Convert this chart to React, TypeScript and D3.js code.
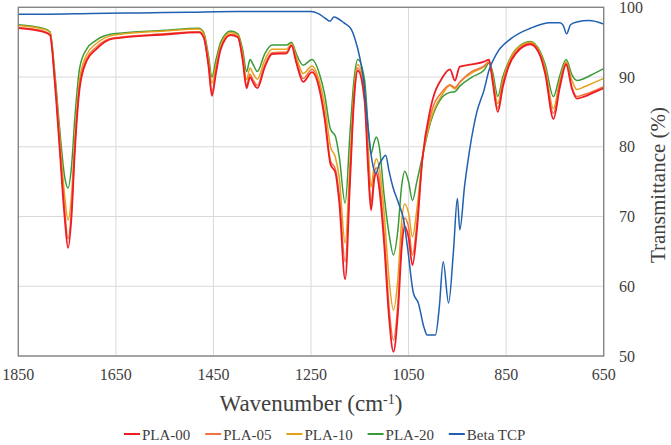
import * as d3 from "d3";

// wavenumbers (cm-1) shared by the PLA spectra, high to low
const wavePLA = [
  1850, 1800, 1785, 1775, 1765, 1755, 1748, 1741, 1734, 1724, 1710, 1690, 1656, 1550, 1480, 1470,
  1460, 1453, 1445, 1435, 1415, 1400, 1390, 1382, 1375, 1368, 1360, 1345, 1330, 1300, 1290, 1280,
  1266, 1248, 1232, 1222, 1210, 1200, 1192, 1180, 1170, 1162, 1154, 1140, 1133, 1127, 1120, 1116,
  1110, 1100, 1090, 1081, 1072, 1064, 1058, 1050, 1042, 1033, 1022, 1005, 980, 965, 955, 945, 920,
  895, 885, 878, 867, 857, 845, 830, 800, 780, 770, 753, 740, 727, 715, 705, 690, 670, 650,
];

const pla00 = [
  97.0, 96.5, 96.0, 89.1, 79.5, 69.9, 65.5, 69.9, 79.5, 88.5, 92.3, 94.0, 95.5, 96.1, 96.4, 95.7,
  91.5, 87.3, 90.5, 94.0, 96.0, 95.7, 92.4, 88.4, 90.0, 89.1, 88.4, 91.4, 93.3, 93.4, 94.5, 92.0,
  89.3, 90.7, 88.0, 84.0, 77.5, 76.3, 72.0, 61.0, 75.0, 86.5, 90.9, 86.5, 77.0, 70.9, 75.5, 76.2,
  74.0, 66.0, 55.5, 50.6, 56.0, 65.5, 68.6, 67.0, 63.0, 68.0, 78.0, 85.5, 90.0, 91.1, 89.5, 91.5, 91.8,
  92.2, 92.5, 89.5, 85.0, 88.5, 91.5, 93.4, 94.7, 93.0, 90.5, 84.0, 88.5, 91.8, 88.3, 86.9, 87.2, 87.8, 88.4,
];

const pla05 = [
  97.1, 96.6, 96.1, 89.5, 80.2, 71.0, 66.8, 71.0, 80.2, 89.0, 92.6, 94.3, 95.6, 96.2, 96.5, 95.8,
  91.8, 87.8, 90.8, 94.2, 96.1, 95.8, 92.6, 88.8, 90.4, 89.5, 88.8, 91.7, 93.5, 93.6, 94.6, 92.3,
  89.8, 91.1, 88.4, 84.5, 78.0, 76.8, 73.0, 63.5, 76.0, 87.0, 91.3, 87.0, 78.0, 72.0, 76.3, 77.0,
  75.3, 67.5, 57.0, 52.3, 57.5, 67.0, 69.8, 68.5, 64.5, 69.0, 78.0, 84.5, 88.0, 88.9, 88.5, 89.3, 90.8,
  91.6, 92.2, 89.8, 85.5, 89.0, 91.7, 93.6, 94.8, 93.2, 90.8, 84.8, 89.0, 92.0, 88.5, 87.2, 87.5, 88.0, 88.6,
];

const pla10 = [
  97.4, 96.9, 96.4, 90.0, 81.2, 73.0, 69.5, 73.0, 81.5, 89.8, 93.2, 94.8, 96.0, 96.6, 96.9, 96.2,
  92.5, 89.1, 91.6, 94.6, 96.4, 96.0, 93.3, 89.6, 91.3, 90.4, 89.7, 92.4, 94.0, 94.0, 94.8, 92.8,
  90.5, 91.6, 89.2, 86.0, 80.0, 78.5, 75.5, 66.2, 78.0, 88.0, 91.8, 88.0, 80.5, 74.2, 77.5, 78.3,
  77.0, 70.5, 61.0, 56.6, 61.0, 69.5, 71.8, 70.5, 67.1, 71.0, 78.2, 83.8, 87.6, 88.8, 88.3, 89.2, 90.6,
  91.5, 92.2, 90.2, 86.2, 89.5, 92.0, 93.9, 95.0, 93.4, 91.3, 85.5, 89.5, 92.2, 89.5, 88.2, 88.6, 89.2, 89.8,
];

const pla20 = [
  97.5, 97.0, 96.5, 90.5, 82.4, 75.7, 74.1, 77.1, 84.2, 91.4, 94.0, 95.3, 96.2, 96.7, 97.0, 96.4,
  93.0, 90.0, 92.4, 95.0, 96.6, 96.2, 93.9, 90.8, 92.5, 91.7, 90.8, 93.3, 94.6, 94.6, 95.0, 93.3,
  91.7, 92.5, 90.3, 87.5, 82.5, 81.5, 78.5, 71.9, 82.0, 89.5, 92.5, 89.5, 83.0, 79.0, 80.8, 81.4,
  80.0, 73.0, 67.5, 64.5, 68.0, 74.5, 76.5, 75.0, 72.3, 75.0, 78.5, 83.5, 87.2, 87.8, 87.9, 88.7, 90.0,
  91.0, 92.0, 90.8, 87.2, 90.0, 92.2, 94.0, 95.1, 93.6, 91.8, 87.2, 90.2, 92.5, 90.3, 89.5, 89.8, 90.5, 91.2,
];

const waveTCP = [
  1850, 1800, 1700, 1600, 1500, 1400, 1300, 1250, 1235, 1222, 1211, 1203, 1195, 1183, 1168, 1160,
  1150, 1143, 1132, 1125, 1117, 1110, 1105, 1097, 1090, 1082, 1070, 1060, 1052, 1040, 1030, 1018,
  1012, 995, 987, 979, 968, 958, 950, 945, 935, 925, 910, 895, 885, 870, 840, 800, 760, 740, 733,
  726, 718, 705, 680, 650,
];

const betaTCP = [
  99.0, 99.0, 99.1, 99.2, 99.3, 99.4, 99.4, 99.4, 99.1, 98.5, 98.0, 98.6, 98.4, 97.8, 96.9, 95.5,
  92.8, 90.0, 82.0, 78.0, 76.2, 77.5, 78.1, 78.8, 76.5, 74.2, 71.8, 69.5, 65.5, 59.0, 57.6, 54.0,
  53.0, 53.0, 57.0, 63.5, 57.6, 65.0, 72.6, 68.1, 74.5, 79.5, 85.0, 88.2, 91.0, 93.3, 95.5, 97.0,
  97.8, 97.8, 97.4, 96.2, 97.5, 97.9, 98.1, 97.6,
];

const xTicks = [1850, 1650, 1450, 1250, 1050, 850, 650];
const yTicks = [50, 60, 70, 80, 90, 100];

const seriesNames = ["PLA-00", "PLA-05", "PLA-10", "PLA-20", "Beta TCP"];
const seriesColors = ["#ee1c25", "#f4733a", "#e5a11c", "#3a9a3a", "#2060b0"];

const W = 671;
const H = 445;
const font = "'Times New Roman', Times, 'Liberation Serif', 'DejaVu Serif', serif";
const textColor = "#404040";
const textStyle = { fontFamily: font };

export default function App() {
  const x = d3.scaleLinear().domain([1850, 650]).range([18.3, 603.7]);
  const y = d3.scaleLinear().domain([50, 100]).range([356, 7.3]);

  const line = d3
    .line<[number, number]>()
    .x((d) => x(d[0]))
    .y((d) => y(d[1]))
    .curve(d3.curveMonotoneX);

  const series: [number, number][][] = [
    wavePLA.map((w, i) => [w, pla00[i]]),
    wavePLA.map((w, i) => [w, pla05[i]]),
    wavePLA.map((w, i) => [w, pla10[i]]),
    wavePLA.map((w, i) => [w, pla20[i]]),
    waveTCP.map((w, i) => [w, betaTCP[i]]),
  ];

  const [x0, x1] = x.range();
  const [y0, y1] = y.range();

  return (
    <svg
      width={W}
      height={H}
      style={{ position: "absolute", left: 0, top: 0, background: "#fff", fontFamily: font }}
    >
      {/* gridlines */}
      {xTicks.map((t) => (
        <line key={"gx" + t} x1={x(t)} x2={x(t)} y1={y1} y2={y0} stroke="#d9d9d9" strokeWidth={1} />
      ))}
      {yTicks.map((t) => (
        <line key={"gy" + t} x1={x0} x2={x1} y1={y(t)} y2={y(t)} stroke="#d9d9d9" strokeWidth={1} />
      ))}

      {/* spectra: PLA-20 under, red on top, TCP drawn last */}
      {[3, 2, 1, 0, 4].map((i) => (
        <path
          key={seriesNames[i]}
          d={line(series[i]) || ""}
          fill="none"
          stroke={seriesColors[i]}
          strokeWidth={i === 0 ? 1.8 : 1.5}
          strokeLinejoin="round"
        />
      ))}

      {/* plot border */}
      <rect x={x0} y={y1} width={x1 - x0} height={y0 - y1} fill="none" stroke="#7f7f7f" strokeWidth={1.3} />

      {/* x tick labels */}
      {xTicks.map((t) => (
        <text key={"tx" + t} x={x(t)} y={380} textAnchor="middle" fontSize={16} fill={textColor} style={textStyle}>
          {t}
        </text>
      ))}
      {/* y tick labels on the right */}
      {yTicks.map((t) => (
        <text
          key={"ty" + t}
          x={619}
          y={y(t)}
          dominantBaseline="central"
          fontSize={16}
          fill={textColor}
          style={textStyle}
        >
          {t}
        </text>
      ))}

      {/* axis titles */}
      <text x={311} y={411} textAnchor="middle" fontSize={23} fill={textColor} style={textStyle}>
        Wavenumber (cm
        <tspan baselineShift="super" fontSize={14}>
          -1
        </tspan>
        )
      </text>
      <text
        transform="translate(665,185) rotate(-90)"
        textAnchor="middle"
        fontSize={21}
        fill={textColor}
        style={textStyle}
      >
        Transmittance (%)
      </text>

      {/* legend */}
      {seriesNames.map((name, i) => {
        const lx = 124 + i * 81.2;
        return (
          <g key={"lg" + name}>
            <line x1={lx} x2={lx + 16} y1={434} y2={434} stroke={seriesColors[i]} strokeWidth={2} />
            <text x={lx + 18} y={439.5} fontSize={15} fill={textColor} style={textStyle}>
              {name}
            </text>
          </g>
        );
      })}
    </svg>
  );
}
